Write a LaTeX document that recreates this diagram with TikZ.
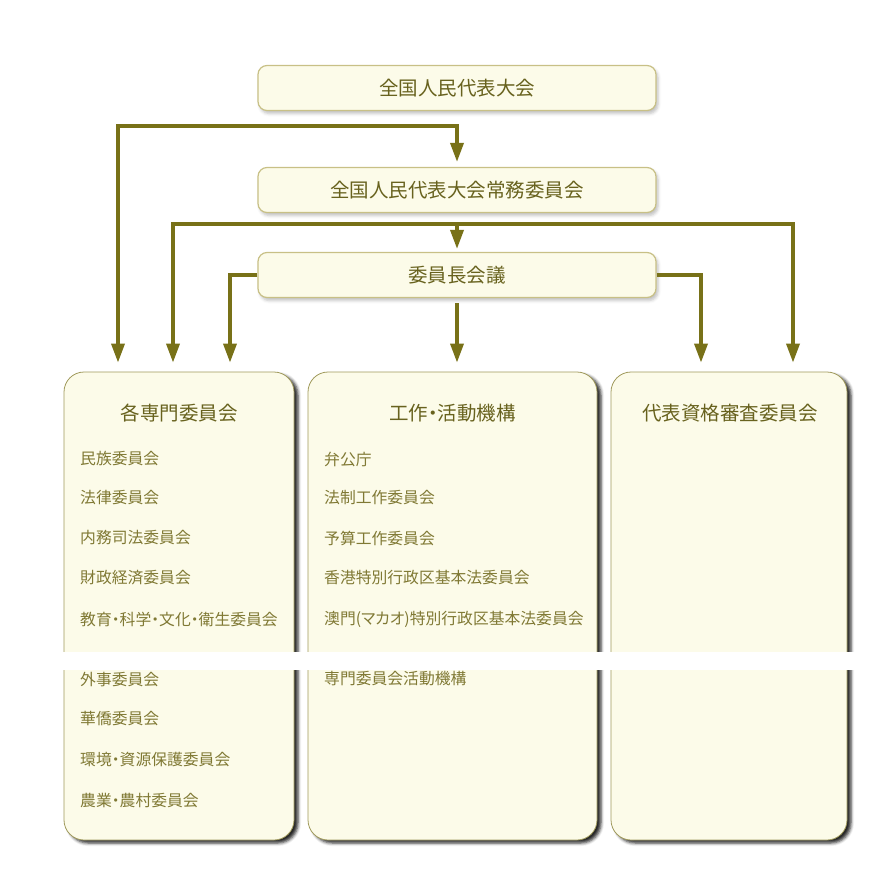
\documentclass[tikz,border=0pt]{standalone}
\usepackage{fontspec}
\newfontfamily\jpfont[RawFeature={+palt}]{Noto Sans CJK JP}
\usetikzlibrary{positioning, calc, shadows, shadows.blur, arrows.meta}
\definecolor{myolive}{RGB}{120,113,24}
\definecolor{mytext}{RGB}{104,98,30}
\definecolor{myitem}{RGB}{128,121,52}
\definecolor{myfill}{RGB}{252,251,233}
\definecolor{myline}{RGB}{200,192,134}
\definecolor{myedge}{RGB}{160,154,92}

\begin{document}
\begin{tikzpicture}[x=1pt,y=-1pt]
  \tikzstyle{organ}=[draw=myline,fill=myfill,line width=1.2pt,rounded corners=9pt,minimum width=398pt,minimum height=45pt,text=mytext,font=\jpfont\fontsize{19.5}{20}\selectfont,blur shadow={shadow xshift=2pt,shadow yshift=-3pt,shadow blur radius=3pt,shadow opacity=25}]
  \tikzstyle{group}=[draw=myedge,fill=myfill,line width=.8pt,rounded corners=20pt,minimum height=468pt,blur shadow={shadow xshift=4pt,shadow yshift=-3pt,shadow blur radius=3pt,shadow opacity=85}]
  \tikzstyle{head}=[text=mytext,font=\jpfont\fontsize{19.5}{20}\selectfont]
  \tikzstyle{item}=[anchor=west,inner sep=0pt,text=myitem,font=\jpfont\fontsize{15.8}{16}\selectfont]
  \tikzstyle{link}=[draw=myolive,line width=3.5pt,-{Triangle[width=13pt,length=19pt]},shorten >=9pt]

  \useasboundingbox (0,0) rectangle (893,878);

  \node[organ] (npc) at (457,88) {全国人民代表大会};
  \node[organ] (std) at (457,190) {全国人民代表大会常務委員会};
  \node[organ] (chair) at (457,275) {委員長会議};

  \node[group,minimum width=230pt] (spec) at (179,606) {};
  \node[group,minimum width=289pt] (work) at (452.5,606) {};
  \node[group,minimum width=236pt] (cred) at (729,606) {};

  \node[head] (spech) at (179,413) {各専門委員会};
  \node[head] (workh) at (452.5,413) {工作・活動機構};
  \node[head] (credh) at (730,413) {代表資格審査委員会};

  \foreach \name/\y [count=\i] in {民族委員会/458, 法律委員会/498, 内務司法委員会/538, 財政経済委員会/578, 教育・科学・文化・衛生委員会/619, 外事委員会/679, 華僑委員会/719, 環境・資源保護委員会/759, 農業・農村委員会/800}
    \node[item] (s\i) at (80,\y) {\name};
  \foreach \name/\y [count=\i] in {弁公庁/459, 法制工作委員会/498, 予算工作委員会/538, 香港特別行政区基本法委員会/578, 澳門(マカオ)特別行政区基本法委員会/619, 専門委員会活動機構/679}
    \node[item] (w\i) at (324,\y) {\name};

  \coordinate (j1) at (287,126);
  \coordinate (j2) at (457,224);
  \draw[link] (j1) -| ([xshift=-61pt]spec.north);
  \draw[link,shorten >=5pt] (j1) -| (std.north);
  \draw[link] (j2) -| ([xshift=-6pt]spec.north);
  \draw[link] (j2) -| ([xshift=64pt]cred.north);
  \draw[link,shorten >=3pt] (j2) -- (chair.north);
  \draw[link] (chair.west) -| ([xshift=51pt]spec.north);
  \draw[link] (chair.east) -| ([xshift=-28pt]cred.north);
  \draw[link,shorten <=5pt] (chair.south) -- (chair.south |- work.north);

  \fill[white] (50,652) rectangle (860,670);
\end{tikzpicture}
\end{document}
